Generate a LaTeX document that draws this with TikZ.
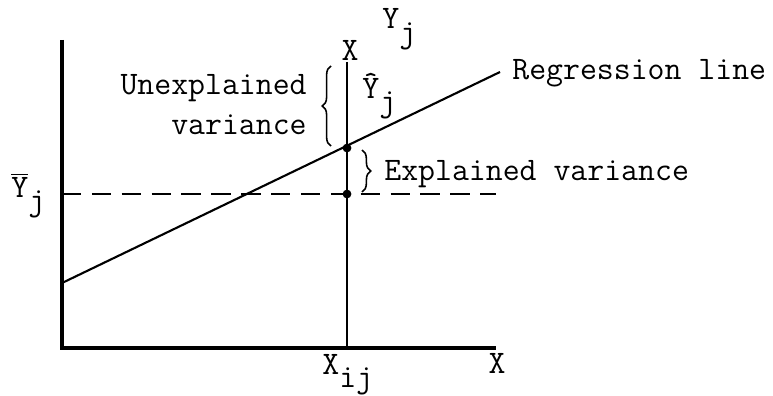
\documentclass[tikz,border=0pt]{standalone}
\usetikzlibrary{decorations.pathreplacing}

\tikzset{
  lbl/.style={inner sep=0pt, font=\fontsize{18.7}{23}\selectfont\ttfamily},
  dot/.style={circle, fill, inner sep=0pt, minimum size=5pt},
  brc/.style={decorate, decoration={brace, amplitude=5pt}, line width=0.9pt}
}
\newcommand{\sub}[1]{\raisebox{-0.95ex}{#1}}

\begin{document}
\begin{tikzpicture}[line cap=butt, line join=miter, x=0.02cm, y=-0.02cm]
  \useasboundingbox (0,0) rectangle (773,395);
  % axes and points
  \coordinate (o) at (62,348);
  \coordinate (ytop) at (62,40);
  \coordinate (xend) at (496,348);
  \coordinate (vtop) at (347,62);
  \coordinate (vbot) at (347,348);
  \coordinate (rega) at (62,283);
  \coordinate (regb) at (500,72);
  \coordinate (dasha) at (62,194);
  \coordinate (dashb) at (496,194);
  \node[dot] (yhat) at (347,148) {};
  \node[dot] (ybar) at (347,194) {};

  \draw[line width=2.2pt] (ytop) -- (o) -- (xend);
  \draw[line width=1.5pt] (vtop) -- (vbot);
  \draw[line width=1.2pt] (rega) -- (regb);
  \draw[line width=1.4pt, dash pattern=on 11pt off 6pt] (dasha) -- (dashb);

  % braces
  \coordinate (ub) at (331,146);
  \coordinate (ut) at (331,66);
  \coordinate (et) at (362,150);
  \coordinate (eb) at (362,192);
  \draw[brc] (ub) -- (ut);
  \draw[brc] (et) -- (eb);

  % labels
  \node[lbl, anchor=base west] (ylab) at (382,29) {Y\sub{j}};
  \node[lbl] (xtop) at (350,50) {X};
  \node[lbl, anchor=base west] (yhl) at (362,98) {\^{Y}\sub{j}};
  \node[lbl, anchor=base west] (regl) at (512,80) {Regression line};
  \node[lbl, align=right, anchor=north east] (unex) at (307,74) {Unexplained\\variance};
  \node[lbl, anchor=base west] (expl) at (384,180) {Explained variance};
  \node[lbl, anchor=base west] (ybl) at (11,197) {$\overline{\mbox{Y}}$\sub{j}};
  \node[lbl, anchor=base west] (xij) at (322,374) {X\sub{ij}};
  \node[lbl] (xlab) at (497,363) {X};
\end{tikzpicture}
\end{document}
